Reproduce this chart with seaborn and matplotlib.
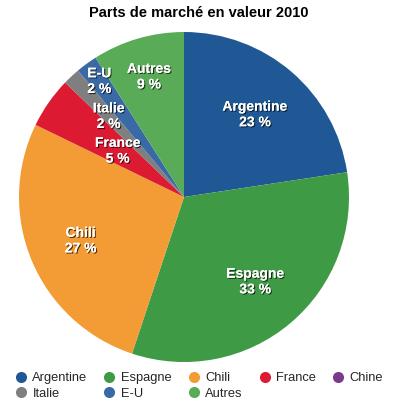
import numpy as np
import matplotlib
matplotlib.use("Agg")
import matplotlib.pyplot as plt
import matplotlib.patheffects as pe
from matplotlib.lines import Line2D
import seaborn as sns

# parts de marché en valeur, 2010 (%)
countries = ["Argentine", "Espagne", "Chili", "France", "Chine", "Italie", "E-U", "Autres"]
shares = [22.6, 32.5, 27.1, 5.0, 0.0, 1.7, 2.1, 9.0]
pct_labels = ["23 %", "33 %", "27 %", "5 %", "", "2 %", "2 %", "9 %"]
colors = ["#1f5894", "#3f9a45", "#f39c35", "#dc1a32", "#7a3b8a", "#7f7f7f", "#3a6aa5", "#5aab57"]

# radial position of each label (fraction of radius)
label_r = [0.66, 0.67, 0.68, 0.49, 0.0, 0.67, 0.87, 0.76]

sns.set_theme(style="white")
plt.rcParams["font.family"] = ["Liberation Sans", "DejaVu Sans"]

fig = plt.figure(figsize=(3.98, 4.09), dpi=100)
ax = fig.add_axes([19 / 398, 47 / 409, 330 / 398, 330 / 409])

wedges, _ = ax.pie(shares, colors=colors, startangle=90, counterclock=False,
                   radius=1.0, wedgeprops=dict(linewidth=0))
ax.set_xlim(-1, 1)
ax.set_ylim(-1, 1)
ax.set_aspect("equal")
ax.axis("off")

shadow = [pe.withSimplePatchShadow(offset=(0.8, -0.8), shadow_rgbFace="black", alpha=0.7),
          pe.Normal()]
for w, name, pct, r in zip(wedges, countries, pct_labels, label_r):
    if not pct:
        continue
    ang = np.deg2rad((w.theta1 + w.theta2) / 2)
    x, y = r * np.cos(ang), r * np.sin(ang)
    ax.text(x, y, f"{name}\n{pct}", ha="center", va="center", color="white",
            fontsize=10, fontweight="bold", linespacing=1.15, path_effects=shadow)

fig.text(0.5, 0.968, "Parts de marché en valeur 2010", ha="center", va="center",
         fontsize=10.5, fontweight="bold", color="black")

order = ["Argentine", "Italie", "Espagne", "E-U", "Chili", "Autres", "France", "Chine"]
handles = [Line2D([], [], marker="o", linestyle="", markersize=8,
                  markerfacecolor=colors[countries.index(c)], markeredgewidth=0)
           for c in order]
fig.legend(handles, order, loc="lower left", bbox_to_anchor=(0.01, 0.0), ncol=5,
           frameon=False, fontsize=9.3, handletextpad=0.3, columnspacing=1.1,
           labelspacing=0.3, handlelength=1.2, borderaxespad=0.3)

fig.savefig("out.png", dpi=100)
